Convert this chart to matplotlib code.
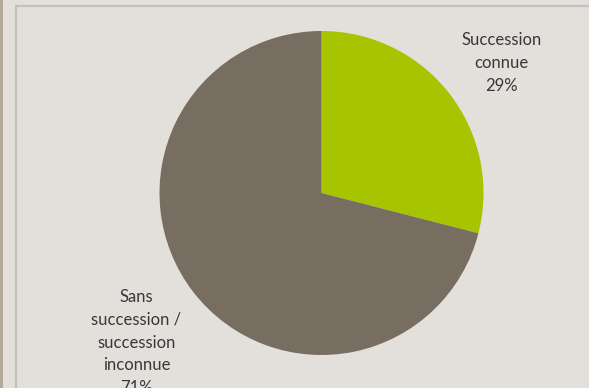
import matplotlib
matplotlib.use("Agg")
import matplotlib.pyplot as plt
from matplotlib.patches import Rectangle

categories = ["Succession\nconnue", "Sans\nsuccession /\nsuccession\ninconnue"]
values = [29, 71]
colors = ["#a6c400", "#776d60"]

W, H = 589, 388
fig = plt.figure(figsize=(W / 100, H / 100), dpi=100)
fig.patch.set_facecolor("#e3e0dc")
ax = fig.add_axes([0, 0, 1, 1])
ax.set_xlim(0, W)
ax.set_ylim(0, H)
ax.set_aspect("equal")
ax.axis("off")

# frame of chart area
ax.add_patch(Rectangle((15.5, -20), W + 40, H - 5.5 + 20, fill=False,
                       edgecolor="#c3c1bd", linewidth=1.6))
ax.add_patch(Rectangle((0, 0), 2.5, H, color="#b3aa9c", linewidth=0))

ax.pie(values, colors=colors, startangle=90, counterclock=False,
       center=(321.5, H - 193), radius=162, frame=True,
       wedgeprops=dict(linewidth=0))
ax.set_xlim(0, W)
ax.set_ylim(0, H)
ax.axis("off")

font = ["Lato", "DejaVu Sans"]
ax.text(501.5, H - 32, f"{categories[0]}\n{values[0]}%", ha="center", va="top",
        fontsize=12, color="#383838", family=font, linespacing=1.52)
ax.text(136.5, H - 289, f"{categories[1]}\n{values[1]}%", ha="center", va="top",
        fontsize=12, color="#383838", family=font, linespacing=1.52)

fig.savefig("out.png", dpi=100, facecolor=fig.get_facecolor())
